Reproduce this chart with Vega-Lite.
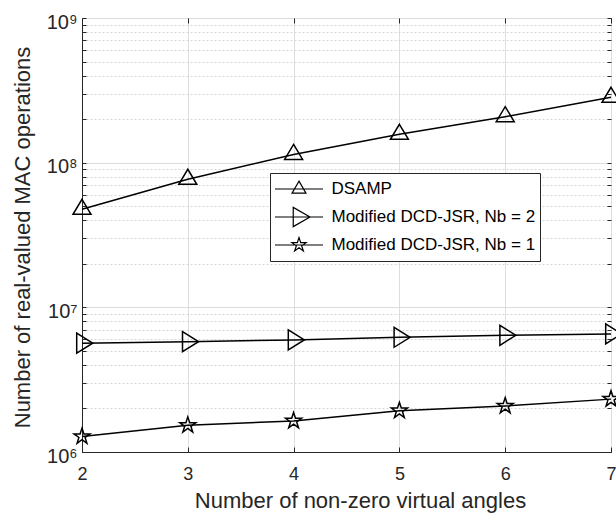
{
  "$schema": "https://vega.github.io/schema/vega-lite/v6.json",
  "width": 529,
  "height": 434,
  "autosize": {"type": "none"},
  "padding": {"left": 82, "top": 18, "right": 5, "bottom": 67},
  "background": "white",
  "config": {
    "font": "Liberation Sans",
    "view": {"stroke": "#262626", "strokeWidth": 1},
    "legend": {"strokeWidth": 1}
  },
  "data": {
    "values": [
      {"x": 2, "series": "DSAMP", "value": 47600000},
      {"x": 3, "series": "DSAMP", "value": 76800000},
      {"x": 4, "series": "DSAMP", "value": 114000000},
      {"x": 5, "series": "DSAMP", "value": 157000000},
      {"x": 6, "series": "DSAMP", "value": 208000000},
      {"x": 7, "series": "DSAMP", "value": 283000000},
      {"x": 2, "series": "Modified DCD-JSR, Nb = 2", "value": 5650000},
      {"x": 3, "series": "Modified DCD-JSR, Nb = 2", "value": 5790000},
      {"x": 4, "series": "Modified DCD-JSR, Nb = 2", "value": 5950000},
      {"x": 5, "series": "Modified DCD-JSR, Nb = 2", "value": 6210000},
      {"x": 6, "series": "Modified DCD-JSR, Nb = 2", "value": 6410000},
      {"x": 7, "series": "Modified DCD-JSR, Nb = 2", "value": 6550000},
      {"x": 2, "series": "Modified DCD-JSR, Nb = 1", "value": 1280000},
      {"x": 3, "series": "Modified DCD-JSR, Nb = 1", "value": 1530000},
      {"x": 4, "series": "Modified DCD-JSR, Nb = 1", "value": 1640000},
      {"x": 5, "series": "Modified DCD-JSR, Nb = 1", "value": 1930000},
      {"x": 6, "series": "Modified DCD-JSR, Nb = 1", "value": 2080000},
      {"x": 7, "series": "Modified DCD-JSR, Nb = 1", "value": 2320000}
    ]
  },
  "layer": [
    {
      "layer": [
        {
          "mark": {"type": "line", "color": "black", "strokeWidth": 1.5},
          "encoding": {
            "x": {
              "field": "x", "type": "quantitative",
              "scale": {"domain": [2, 7], "nice": false, "zero": false},
              "axis": {
                "values": [2, 3, 4, 5, 6, 7],
                "format": "d",
                "title": "Number of non-zero virtual angles",
                "titleFontSize": 22, "titleFontWeight": "normal", "titleColor": "#262626",
                "titleX": 278, "titleY": 38, "titleBaseline": "top", "titleAlign": "center", "titleAnchor": "middle",
                "labelFontSize": 18, "labelColor": "#262626", "labelPadding": 18, "labelFlush": false, "labelOverlap": false,
                "tickSize": -5, "tickColor": "#262626", "tickWidth": 1,
                "domainColor": "#262626", "domainWidth": 1,
                "grid": true, "gridColor": "#dedede", "gridWidth": 1
              }
            },
            "y": {
              "field": "value", "type": "quantitative",
              "scale": {"type": "log", "domain": [1000000, 1000000000], "nice": false},
              "axis": {
                "values": [1000000, 2000000, 3000000, 4000000, 5000000, 6000000, 7000000, 8000000, 9000000, 10000000, 20000000, 30000000, 40000000, 50000000, 60000000, 70000000, 80000000, 90000000, 100000000, 200000000, 300000000, 400000000, 500000000, 600000000, 700000000, 800000000, 900000000, 1000000000],
                "labelExpr": "datum.value == 1000000 ? '10⁶' : datum.value == 10000000 ? '10⁷' : datum.value == 100000000 ? '10⁸' : datum.value == 1000000000 ? '10⁹' : ''",
                "title": "Number of real-valued MAC operations",
                "titleFontSize": 22, "titleFontWeight": "normal", "titleColor": "#262626",
                "titleX": -70, "titleY": 219, "titleBaseline": "top", "titleAlign": "center", "titleAngle": 270,
                "labelFontSize": 20, "labelColor": "#262626", "labelPadding": 9, "labelOverlap": false, "labelBaseline": "middle", "labelOffset": 4,
                "tickSize": -4, "tickColor": "#262626", "tickWidth": 1,
                "domainColor": "#262626", "domainWidth": 1,
                "grid": true,
                "gridColor": {"condition": {"test": "datum.value == 1000000 || datum.value == 10000000 || datum.value == 100000000 || datum.value == 1000000000", "value": "#dcdcdc"}, "value": "#d6d6d6"},
                "gridDash": {"condition": {"test": "datum.value == 1000000 || datum.value == 10000000 || datum.value == 100000000 || datum.value == 1000000000", "value": []}, "value": [2, 2]},
                "gridWidth": 1
              }
            },
            "detail": {"field": "series", "type": "nominal"}
          }
        },
        {
          "mark": {"type": "point", "filled": false, "color": "black", "strokeWidth": 1.5, "size": 400, "opacity": 1},
          "encoding": {
            "x": {"field": "x", "type": "quantitative"},
            "y": {"field": "value", "type": "quantitative"},
            "shape": {
              "field": "series", "type": "nominal",
              "scale": {
                "domain": ["DSAMP", "Modified DCD-JSR, Nb = 2", "Modified DCD-JSR, Nb = 1"],
                "range": [
                  "M0,-1L0.9,0.5L-0.9,0.5Z",
                  "M1.07,0L-0.53,-1L-0.53,1Z",
                  "M0,-0.84L0.19,-0.26L0.8,-0.26L0.31,0.1L0.49,0.68L0,0.32L-0.49,0.68L-0.31,0.1L-0.8,-0.26L-0.19,-0.26Z"
                ]
              },
              "legend": null
            }
          }
        },
        {
          "transform": [{"filter": "datum.x < 0"}],
          "mark": {"type": "point", "filled": false, "color": "black", "strokeWidth": 1.2, "size": 2304, "opacity": 1},
          "encoding": {
            "x": {"field": "x", "type": "quantitative"},
            "y": {"field": "value", "type": "quantitative"},
            "shape": {
              "field": "series", "type": "nominal",
              "scale": {
                "domain": ["DSAMP", "Modified DCD-JSR, Nb = 2", "Modified DCD-JSR, Nb = 1"],
                "range": [
                  "M-1,0L1,0M0,-0.33L0.29,0.17L-0.29,0.17Z",
                  "M-1,0L1,0M0.46,0L-0.24,-0.4L-0.24,0.4Z",
                  "M-1,0L1,0M0,-0.31L0.07,-0.096L0.295,-0.096L0.113,0.037L0.182,0.25L0,0.118L-0.182,0.25L-0.113,0.037L-0.295,-0.096L-0.07,-0.096Z"
                ]
              },
              "legend": {
                "title": null,
                "orient": "none",
                "legendX": 188,
                "legendY": 155,
                "padding": 4,
                "strokeColor": "#262626",
                "fillColor": "white",
                "labelFontSize": 17,
                "labelColor": "black",
                "labelLimit": 400,
                "labelOffset": 7.5,
                "clipHeight": 24,
                "rowPadding": 4,
                "symbolSize": 2304,
                "symbolStrokeWidth": 1.2,
                "symbolStrokeColor": "black",
                "symbolOpacity": 1
              }
            }
          }
        }
      ],
      "resolve": {"scale": {"shape": "independent"}}
    },
    {
      "mark": {"type": "point", "opacity": 0},
      "encoding": {
        "x": {
          "field": "x", "type": "quantitative",
          "scale": {"domain": [2, 7], "nice": false, "zero": false},
          "axis": {"orient": "top", "values": [2, 3, 4, 5, 6, 7], "labels": false, "title": null, "grid": false, "domain": false, "tickSize": -5, "tickColor": "#262626"}
        },
        "y": {
          "field": "value", "type": "quantitative",
          "scale": {"type": "log", "domain": [1000000, 1000000000], "nice": false},
          "axis": {"orient": "right", "values": [1000000, 2000000, 3000000, 4000000, 5000000, 6000000, 7000000, 8000000, 9000000, 10000000, 20000000, 30000000, 40000000, 50000000, 60000000, 70000000, 80000000, 90000000, 100000000, 200000000, 300000000, 400000000, 500000000, 600000000, 700000000, 800000000, 900000000, 1000000000], "labels": false, "title": null, "grid": false, "domain": false, "tickSize": -4, "tickColor": "#262626"}
        }
      }
    }
  ],
  "resolve": {"scale": {"x": "independent", "y": "independent"}}
}
